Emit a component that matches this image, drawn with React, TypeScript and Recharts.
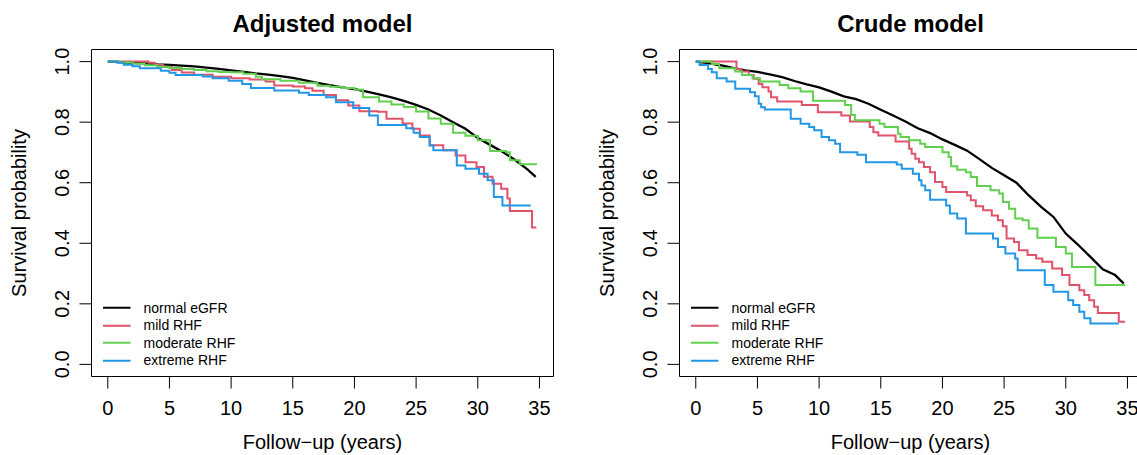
import React from 'react';
import { LineChart, Line, XAxis, YAxis, ReferenceArea, Legend } from 'recharts';

const FONT = "'Liberation Sans', Arial, Helvetica, sans-serif";

const groups = ['normal eGFR', 'mild RHF', 'moderate RHF', 'extreme RHF'];
const colors = ['#000000', '#DF536B', '#61D04F', '#2297E6'];
const xTicks = [0, 5, 10, 15, 20, 25, 30, 35];
const yTicks = [0, 0.2, 0.4, 0.6, 0.8, 1];

// Adjusted model
const adjNormalT = [0, 1, 2, 3, 4, 5, 6, 7, 8, 9, 10, 11, 12, 13, 14, 15, 16, 17, 18, 19, 20, 21, 22, 23, 24, 25, 26, 27, 28, 29, 30, 31, 32, 33, 34, 34.7];
const adjNormalS = [1, 0.998, 0.996, 0.994, 0.991, 0.989, 0.987, 0.984, 0.98, 0.976, 0.971, 0.966, 0.961, 0.957, 0.952, 0.946, 0.938, 0.93, 0.922, 0.915, 0.909, 0.901, 0.892, 0.882, 0.87, 0.857, 0.842, 0.822, 0.8, 0.778, 0.748, 0.725, 0.702, 0.676, 0.645, 0.619];

const adjMildT = [0, 3.3, 3.8, 4.5, 5.2, 6, 7, 8.5, 10, 11.5, 12.8, 13.5, 15, 16, 16.6, 17.5, 18.5, 19.5, 20.4, 21.9, 22.6, 23.9, 24.7, 25.3, 26.1, 27.2, 28.2, 29, 29.9, 30.5, 31.2, 31.9, 32.4, 32.6, 34.4, 34.75];
const adjMildS = [1, 0.996, 0.99, 0.982, 0.972, 0.964, 0.957, 0.95, 0.945, 0.941, 0.934, 0.921, 0.918, 0.912, 0.904, 0.89, 0.872, 0.855, 0.836, 0.834, 0.811, 0.796, 0.778, 0.756, 0.724, 0.707, 0.69, 0.668, 0.652, 0.62, 0.597, 0.58, 0.548, 0.507, 0.452, 0.452];

const adjModT = [0, 1, 2, 3, 4, 5, 6, 7, 8, 9, 10, 11, 12, 12.5, 14, 15.5, 17, 18, 19, 20, 20.7, 22, 23, 24, 25, 26, 27, 28, 29, 30, 31, 32.3, 32.6, 33.4, 34.8];
const adjModS = [1, 0.997, 0.993, 0.988, 0.983, 0.979, 0.976, 0.972, 0.968, 0.966, 0.965, 0.96, 0.95, 0.942, 0.937, 0.93, 0.92, 0.917, 0.913, 0.907, 0.882, 0.868, 0.858, 0.85, 0.835, 0.812, 0.795, 0.765, 0.755, 0.74, 0.705, 0.701, 0.674, 0.661, 0.661];

const adjExtT = [0, 0.8, 1.3, 2, 2.6, 4.3, 5, 5.5, 7.7, 8.5, 9.8, 10.9, 11.6, 13.5, 15.5, 16.3, 17.7, 18.5, 19.9, 21.2, 21.9, 24.2, 24.8, 25.3, 26.1, 26.4, 28.3, 29, 30.1, 30.8, 31.3, 32, 34.3];
const adjExtS = [1, 0.996, 0.99, 0.985, 0.978, 0.97, 0.963, 0.956, 0.951, 0.945, 0.937, 0.926, 0.913, 0.905, 0.897, 0.89, 0.882, 0.866, 0.847, 0.822, 0.791, 0.78, 0.765, 0.751, 0.723, 0.707, 0.657, 0.646, 0.63, 0.608, 0.553, 0.525, 0.525];

// Crude model
const crudeNormalT = [0, 1, 2, 3, 4, 5, 6, 7, 8, 9, 10, 11, 12, 13, 14, 15, 16, 17, 18, 19, 20, 21, 22, 23, 24, 25, 26, 27, 28, 29, 30, 31, 32, 33, 34, 34.7];
const crudeNormalS = [1, 0.995, 0.988, 0.979, 0.971, 0.966, 0.958, 0.949, 0.936, 0.925, 0.915, 0.901, 0.885, 0.876, 0.861, 0.841, 0.822, 0.802, 0.78, 0.764, 0.743, 0.725, 0.706, 0.678, 0.649, 0.625, 0.6, 0.558, 0.52, 0.487, 0.432, 0.395, 0.355, 0.314, 0.295, 0.267];

const crudeMildT = [0, 3.3, 3.7, 4.3, 4.7, 5.1, 5.4, 5.9, 6.1, 6.6, 8.6, 9.9, 11.8, 12.5, 14.1, 14.4, 14.8, 16.2, 17.3, 17.5, 17.8, 18.1, 18.5, 19, 19.4, 20, 20.3, 22, 22.3, 22.7, 23.3, 24, 24.5, 24.9, 25.2, 25.8, 26.2, 26.9, 27.6, 28.1, 28.9, 29.7, 30.3, 31.1, 31.5, 31.9, 32.3, 32.6, 34.3, 34.8];
const crudeMildS = [1, 0.976, 0.967, 0.956, 0.943, 0.926, 0.915, 0.901, 0.882, 0.868, 0.857, 0.833, 0.822, 0.802, 0.784, 0.767, 0.756, 0.736, 0.712, 0.696, 0.679, 0.668, 0.652, 0.635, 0.602, 0.586, 0.569, 0.558, 0.542, 0.522, 0.509, 0.492, 0.476, 0.456, 0.416, 0.404, 0.377, 0.361, 0.35, 0.339, 0.317, 0.295, 0.262, 0.245, 0.229, 0.212, 0.19, 0.17, 0.141, 0.141];

const crudeModT = [0, 1.3, 1.9, 3.2, 3.75, 4.6, 5.2, 6.8, 7.5, 8.5, 9.5, 12.1, 12.6, 12.9, 14.9, 15.3, 16.4, 16.6, 17.3, 18.2, 18.6, 20, 20.5, 20.7, 21.2, 21.9, 22.3, 22.8, 23.9, 24.6, 24.9, 25.4, 25.9, 26.5, 27, 27.7, 29.2, 30, 30.5, 32.4, 34.8];
const crudeModS = [1, 0.992, 0.978, 0.967, 0.956, 0.945, 0.934, 0.923, 0.912, 0.901, 0.871, 0.857, 0.824, 0.806, 0.795, 0.784, 0.762, 0.751, 0.74, 0.729, 0.718, 0.701, 0.685, 0.654, 0.643, 0.635, 0.619, 0.589, 0.575, 0.564, 0.536, 0.514, 0.482, 0.476, 0.449, 0.418, 0.388, 0.366, 0.322, 0.262, 0.262];

const crudeExtT = [0, 0.3, 1, 1.3, 1.7, 2.5, 3.2, 4.4, 4.8, 5.1, 5.3, 5.6, 7.7, 8.5, 9.2, 9.6, 10.2, 10.8, 11.3, 11.7, 13.1, 13.8, 16.3, 16.7, 17.6, 18.1, 18.3, 18.6, 19, 20.3, 20.6, 21.2, 21.9, 24.1, 24.5, 25.1, 25.9, 26.1, 28.3, 29, 30.2, 30.6, 31.1, 31.5, 32, 34.3];
const crudeExtS = [1, 0.989, 0.976, 0.965, 0.945, 0.934, 0.91, 0.899, 0.886, 0.861, 0.849, 0.842, 0.811, 0.795, 0.784, 0.773, 0.751, 0.74, 0.729, 0.701, 0.692, 0.668, 0.66, 0.646, 0.63, 0.608, 0.591, 0.575, 0.544, 0.525, 0.498, 0.482, 0.432, 0.416, 0.388, 0.366, 0.35, 0.311, 0.262, 0.24, 0.212, 0.196, 0.174, 0.152, 0.135, 0.135];

const toPoints = (t: number[], s: number[]) => t.map((v, i) => ({ t: v, s: s[i] }));

const adjusted = [
  toPoints(adjNormalT, adjNormalS),
  toPoints(adjMildT, adjMildS),
  toPoints(adjModT, adjModS),
  toPoints(adjExtT, adjExtS),
];
const crude = [
  toPoints(crudeNormalT, crudeNormalS),
  toPoints(crudeMildT, crudeMildS),
  toPoints(crudeModT, crudeModS),
  toPoints(crudeExtT, crudeExtS),
];

const X_DOMAIN = [-1.32, 36.14];
const Y_DOMAIN = [-0.04, 1.04];

const XTick = ({ x, y, payload }: any) => (
  <text x={x} y={y + 24} textAnchor="middle" fontSize={20} fontFamily={FONT} fill="#000">
    {payload.value}
  </text>
);

const YTick = ({ x, y, payload }: any) => {
  const bx = x - 8.5;
  return (
    <text x={bx} y={y} transform={`rotate(-90 ${bx} ${y})`} textAnchor="middle" fontSize={20} fontFamily={FONT} fill="#000">
      {payload.value.toFixed(1)}
    </text>
  );
};

const renderLegend = ({ payload }: any) => {
  const items = [...(payload || [])].sort((a: any, b: any) => groups.indexOf(a.value) - groups.indexOf(b.value));
  return (
    <div>
      {items.map((e: any) => (
        <div key={e.value} style={{ display: 'flex', alignItems: 'center', height: 17.5 }}>
          <svg width={28} height={17.5}>
            <line x1={0} x2={27.5} y1={8.75} y2={8.75} stroke={e.color} strokeWidth={2} />
          </svg>
          <span style={{ marginLeft: 12.5, font: `14px ${FONT}`, color: '#000', whiteSpace: 'nowrap' }}>{e.value}</span>
        </div>
      ))}
    </div>
  );
};

const Panel = ({ title, series, left }: { title: string; series: { t: number; s: number }[][]; left: number }) => (
  <div style={{ position: 'absolute', left, top: 0, width: 570, height: 455 }}>
    <LineChart width={570} height={455} margin={{ top: 49.5, right: 16.5, bottom: 0, left: 0 }}>
      <XAxis
        type="number"
        dataKey="t"
        domain={X_DOMAIN}
        ticks={xTicks}
        interval={0}
        allowDataOverflow
        height={78.5}
        axisLine={false}
        stroke="#000"
        tickSize={12}
        tick={XTick}
        label={() => (
          <text x={322.5} y={449} textAnchor="middle" fontSize={20} fontFamily={FONT} fill="#000">
            Follow−up (years)
          </text>
        )}
      />
      <YAxis
        type="number"
        domain={Y_DOMAIN}
        ticks={yTicks}
        interval={0}
        allowDataOverflow
        width={91.5}
        axisLine={false}
        stroke="#000"
        tickSize={12}
        tick={YTick}
        label={() => (
          <text x={25.5} y={213} transform="rotate(-90 25.5 213)" textAnchor="middle" fontSize={20} fontFamily={FONT} fill="#000">
            Survival probability
          </text>
        )}
      />
      <ReferenceArea x1={X_DOMAIN[0]} x2={X_DOMAIN[1]} y1={Y_DOMAIN[0]} y2={Y_DOMAIN[1]} fill="none" stroke="#000" strokeWidth={1} ifOverflow="visible" />
      {series.map((d, i) => (
        <Line
          key={groups[i]}
          name={groups[i]}
          data={d}
          dataKey="s"
          type={i === 0 ? 'linear' : 'stepAfter'}
          stroke={colors[i]}
          strokeWidth={i === 0 ? 2.3 : 2}
          dot={false}
          activeDot={false}
          isAnimationActive={false}
        />
      ))}
      <Legend
        layout="horizontal"
        verticalAlign="middle"
        align="center"
        wrapperStyle={{ left: 103, top: 299, width: 'auto' }}
        content={renderLegend}
      />
    </LineChart>
    <div
      style={{
        position: 'absolute',
        left: 91.5,
        width: 462,
        top: 12,
        textAlign: 'center',
        font: `bold 24px ${FONT}`,
        lineHeight: '24px',
        color: '#000',
      }}
    >
      {title}
    </div>
  </div>
);

export default function App() {
  return (
    <div style={{ position: 'fixed', left: 0, top: 0, width: 1137, height: 455, overflow: 'hidden', background: '#fff' }}>
      <Panel title="Adjusted model" series={adjusted} left={0} />
      <Panel title="Crude model" series={crude} left={588} />
    </div>
  );
}
